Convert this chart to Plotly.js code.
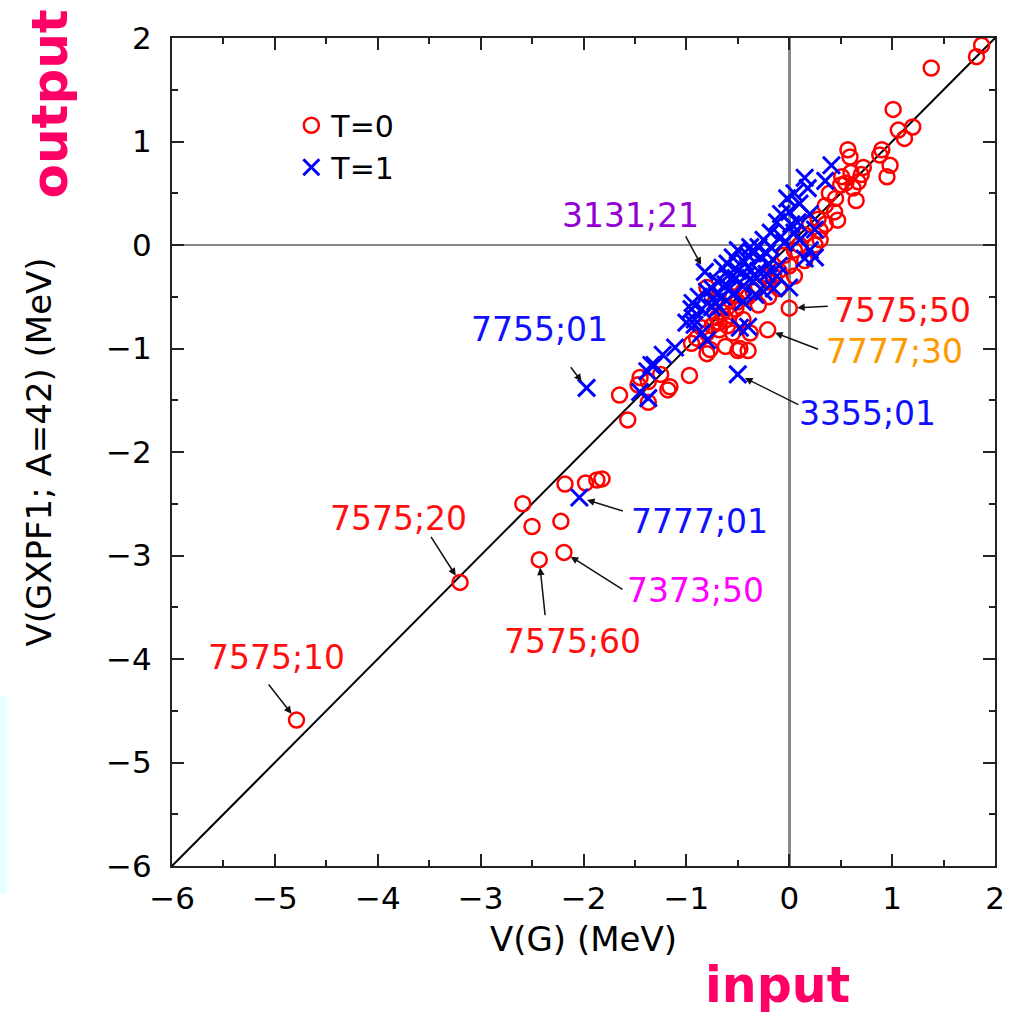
<!DOCTYPE html>
<html>
<head>
<meta charset="utf-8">
<script src="https://cdn.plot.ly/plotly-3.0.1.min.js"></script>
<style>html,body{margin:0;padding:0;background:#fff;}#chart{width:1021px;height:1024px;}</style>
</head>
<body>
<div id="chart"></div>
<script>
// T=0 (red circles)
const t0X = [1.87,1.82,1.38,1.01,1.06,1.12,1.20,0.57,0.59,0.90,0.88,0.98,0.95,0.72,0.60,0.67,0.51,0.65,0.39,0.44,0.47,0.30,0.55,0.62,0.70,0.50,0.45,0.35,0.28,0.20,0.15,0.25,0.10,0.05,-0.05,0.00,-0.10,-0.15,-0.20,-0.25,-0.30,-0.35,-0.40,-0.45,-0.50,-0.55,-0.60,-0.65,-0.70,-0.62,-0.58,-0.52,-0.80,-0.72,-0.75,-0.68,-0.80,-0.85,-0.77,-0.80,-0.97,-1.16,-1.45,-1.47,-1.37,-1.18,-1.25,-1.37,-1.65,-1.57,0.00,-0.21,-0.38,-0.55,-0.50,-0.68,-0.60,-0.45,-0.30,-0.20,-0.10,0.05,0.15,0.30,0.35,-0.90,-0.95,-4.79,-3.20,-2.59,-2.50,-2.22,-2.43,-2.19,-2.18,-1.98,-1.87,-1.82,-0.40,-0.48,-0.62];
const t0Y = [1.93,1.82,1.71,1.31,1.11,1.03,1.14,0.92,0.85,0.92,0.87,0.77,0.66,0.75,0.70,0.61,0.66,0.43,0.50,0.32,0.24,0.14,0.60,0.55,0.68,0.58,0.45,0.38,0.25,0.20,0.10,0.00,0.00,-0.05,-0.10,-0.20,-0.25,-0.30,-0.35,-0.30,-0.40,-0.45,-0.50,-0.45,-0.55,-0.50,-0.60,-0.65,-0.70,-0.72,-0.68,-0.62,-0.41,-0.55,-0.78,-0.82,-0.85,-0.80,-1.01,-1.05,-1.26,-1.37,-1.28,-1.35,-1.32,-1.40,-1.25,-1.52,-1.45,-1.69,-0.61,-0.82,-0.85,-0.85,-1.02,-0.75,-0.78,-0.72,-0.58,-0.50,-0.42,-0.30,-0.15,0.05,0.20,-0.90,-0.95,-4.59,-3.26,-2.50,-2.72,-2.67,-3.04,-2.97,-2.31,-2.30,-2.27,-2.26,-1.02,-1.00,-0.98];
// T=1 (blue crosses)
const t1X = [0.35,0.41,0.15,0.18,0.05,-0.02,0.10,0.00,-0.08,0.20,-0.12,-0.18,0.05,0.25,-0.25,-0.30,0.10,0.20,0.25,0.15,-0.35,-0.40,-0.45,-0.50,-0.55,-0.60,-0.65,-0.82,-0.60,-0.50,-0.42,-0.35,-0.30,-0.20,-0.10,0.00,-0.15,-0.25,-0.33,-0.70,-0.75,-0.80,-0.88,-0.94,-0.95,-0.92,-0.72,-0.65,-0.55,-0.45,-0.40,-0.48,-0.92,-1.00,-0.80,-0.85,-1.11,-1.23,-1.31,-1.34,-1.38,-1.37,-1.45,-1.97,-2.04,-0.50,-0.05,-0.22,-0.38,0.02,
  -0.28,-0.18,-0.62,-0.52,-0.70,-0.40,-0.08,-0.32,-0.58,-0.68,-0.12,-0.45,0.08,-0.22,-0.75,-0.85];
const t1Y = [0.62,0.77,0.65,0.55,0.50,0.45,0.40,0.32,0.30,0.30,0.22,0.12,0.12,0.15,0.05,-0.02,0.05,-0.05,-0.12,-0.13,-0.08,-0.10,-0.15,-0.05,-0.12,-0.18,-0.22,-0.26,-0.30,-0.25,-0.30,-0.35,-0.25,-0.18,-0.20,-0.41,-0.42,-0.45,-0.48,-0.35,-0.42,-0.45,-0.50,-0.56,-0.62,-0.77,-0.55,-0.50,-0.48,-0.55,-0.79,-0.80,-0.72,-0.75,-0.92,-0.85,-0.99,-1.06,-1.16,-1.16,-1.22,-1.48,-1.42,-1.38,-2.44,-1.25,0.02,-0.08,-0.02,0.20,
  -0.12,-0.02,-0.38,-0.32,-0.48,-0.22,0.08,-0.32,-0.42,-0.60,-0.30,-0.40,0.22,-0.28,-0.60,-0.62];
// diagonal reference line y = x
const diagX = [-6, 2];
const diagY = [-6, 2];
// labelled points
const labText  = ['3131;21','7755;01','7575;50','7777;30','3355;01','7777;01','7373;50','7575;20','7575;60','7575;10'];
const labX     = [-0.82,-1.97,0.00,-0.21,-0.50,-2.04,-2.19,-3.20,-2.43,-4.79];
const labY     = [-0.26,-1.38,-0.61,-0.82,-1.25,-2.44,-2.97,-3.26,-3.04,-4.59];
const labColor = ['#9400d3','#1010ff','#ff1010','#ff9900','#1010ff','#1010ff','#ff00ff','#ff1010','#ff1010','#ff1010'];
// arrow tail offsets (px) and text offsets (px) relative to the point
const arrAX = [-20,-17,40,52,62,45,60,-30,6,-29];
const arrAY = [-37,-22,-2,20,31,14,38,-47,57,-37];
const txtDX = [-74,-47,113,127,130,120,132,-62,33,-20];
const txtDY = [56,58,-2,-22,-39,-24,-38,64,-82,63];

const FONT = 'DejaVu Sans, Verdana, sans-serif';

const traces = [
  {x: diagX, y: diagY, mode: 'lines', line: {color: '#000', width: 2}, showlegend: false, hoverinfo: 'skip'},
  {x: t0X, y: t0Y, mode: 'markers', name: 'T=0',
   marker: {symbol: 'circle-open', size: 15, color: '#ff0000', line: {width: 2.5, color: '#ff0000'}}},
  {x: t1X, y: t1Y, mode: 'markers', name: 'T=1',
   marker: {symbol: 'x-thin-open', size: 17, color: '#0000ff', line: {width: 3, color: '#0000ff'}}}
];

const annotations = [];
for (let i = 0; i < labText.length; i++) {
  annotations.push({x: labX[i], y: labY[i], xref: 'x', yref: 'y', text: '', showarrow: true,
    ax: arrAX[i], ay: arrAY[i], arrowhead: 2, arrowsize: 1, arrowwidth: 1.5, arrowcolor: '#111', standoff: 8});
  annotations.push({x: labX[i], y: labY[i], xref: 'x', yref: 'y', text: labText[i], showarrow: false,
    xanchor: 'center', yanchor: 'middle',
    xshift: txtDX[i], yshift: txtDY[i], font: {family: FONT, size: 33, color: labColor[i]}});
}
annotations.push({xref: 'paper', yref: 'paper', x: -0.148, y: 0.92, xanchor: 'center', yanchor: 'middle',
  text: 'output', textangle: -90, showarrow: false,
  font: {family: 'DejaVu Sans, sans-serif', size: 50, color: '#ff0066', weight: 'bold'}});
annotations.push({xref: 'paper', yref: 'paper', x: 0.736, y: -0.144, xanchor: 'center', yanchor: 'middle',
  text: 'input', showarrow: false,
  font: {family: 'DejaVu Sans, sans-serif', size: 49, color: '#ff0066', weight: 'bold'}});

const axisCommon = {
  range: [-6, 2], dtick: 1, tick0: 0, ticks: 'inside', ticklen: 12, tickwidth: 2, tickcolor: '#222',
  showline: true, linewidth: 2, linecolor: '#222', mirror: 'ticks', showgrid: false,
  zeroline: true, zerolinecolor: '#888', zerolinewidth: 2.5,
  tickfont: {family: FONT, size: 31, color: '#000'},
  minor: {dtick: 0.5, ticks: 'inside', ticklen: 6, tickwidth: 2, tickcolor: '#222', showgrid: false}
};

const layout = {
  width: 1021, height: 1024,
  margin: {l: 172, r: 26, t: 38, b: 158},
  paper_bgcolor: '#fff', plot_bgcolor: '#fff',
  xaxis: Object.assign({}, axisCommon, {ticklabelstandoff: 4,
    title: {text: 'V(G) (MeV)', standoff: 12, font: {family: FONT, size: 34, color: '#000'}}}),
  yaxis: Object.assign({}, axisCommon, {ticklabelstandoff: 12,
    title: {text: 'V(GXPF1; A=42) (MeV)', standoff: 44, font: {family: FONT, size: 34, color: '#000'}}}),
  showlegend: true,
  legend: {x: 0.145, y: 0.926, xanchor: 'left', yanchor: 'top', bgcolor: 'rgba(0,0,0,0)',
    font: {family: FONT, size: 30, color: '#000'}, tracegroupgap: 0},
  annotations: annotations,
  shapes: [{type: 'rect', xref: 'paper', yref: 'paper', x0: -0.209, x1: -0.2005, y0: -0.033, y1: 0.206,
    fillcolor: '#e6ffff', line: {width: 0}, layer: 'below'}]
};

Plotly.newPlot('chart', traces, layout, {displayModeBar: false, staticPlot: true});
</script>
</body>
</html>
